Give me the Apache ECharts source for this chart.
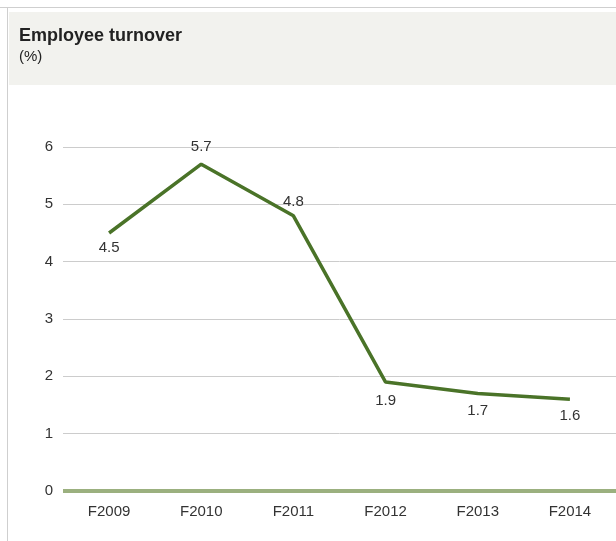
<!DOCTYPE html>
<html>
<head>
<meta charset="utf-8">
<script src="https://cdn.jsdelivr.net/npm/echarts@6/dist/echarts.min.js"></script>
<style>
  html, body { margin: 0; padding: 0; background: #ffffff; }
  #chart { width: 616px; height: 541px; }
</style>
</head>
<body>
<div id="chart"></div>
<script>
// Fiscal years and turnover rate (%)
const categories = ['F2009', 'F2010', 'F2011', 'F2012', 'F2013', 'F2014'];
const turnover = [4.5, 5.7, 4.8, 1.9, 1.7, 1.6];
const yTicks = [0, 1, 2, 3, 4, 5, 6];

// Value label placement for each point
const labelSides = ['bottom', 'top', 'top', 'bottom', 'bottom', 'bottom'];
const labelGaps = [7, 9, 6, 11, 9, 9];

const chart = echarts.init(document.getElementById('chart'), null, { renderer: 'canvas' });

const font = 'Liberation Sans, Arial, sans-serif';

chart.setOption({
  animation: false,
  backgroundColor: '#ffffff',
  graphic: [
    // outer frame
    { type: 'line', shape: { x1: 0, y1: 7.5, x2: 616, y2: 7.5 }, style: { stroke: '#cfcfcf', lineWidth: 1 }, z: -10 },
    { type: 'line', shape: { x1: 7.5, y1: 7, x2: 7.5, y2: 541 }, style: { stroke: '#cfcfcf', lineWidth: 1 }, z: -10 },
    // header band
    { type: 'rect', shape: { x: 9, y: 12, width: 607, height: 73 }, style: { fill: '#f2f2ee' }, z: -9 },
    { type: 'text', left: 19, top: 27, style: { text: 'Employee turnover', font: 'bold 18px ' + font, fill: '#222222' } },
    { type: 'text', left: 19, top: 49, style: { text: '(%)', font: '15px ' + font, fill: '#222222' } }
  ],
  grid: { left: 63, right: -5, top: 147, bottom: 50, containLabel: false },
  xAxis: {
    type: 'category',
    data: categories,
    boundaryGap: true,
    axisLine: { show: false },
    axisTick: { show: false },
    axisLabel: { color: '#333333', fontSize: 15, fontFamily: font, margin: 13 }
  },
  yAxis: {
    type: 'value',
    min: 0,
    max: yTicks[yTicks.length - 1],
    interval: 1,
    axisLine: { show: false },
    axisTick: { show: false },
    axisLabel: { color: '#333333', fontSize: 15, fontFamily: font, margin: 10 },
    splitLine: { lineStyle: { color: '#cccccc', width: 1 } }
  },
  series: [
    {
      type: 'line',
      data: turnover.map((v, i) => ({
        value: v,
        label: { position: labelSides[i], distance: labelGaps[i] }
      })),
      showSymbol: true,
      symbol: 'circle',
      symbolSize: 1,
      itemStyle: { color: 'rgba(0,0,0,0)' },
      lineStyle: { color: '#4a7328', width: 3.5 },
      label: {
        show: true,
        color: '#333333',
        fontSize: 15,
        fontFamily: font,
        formatter: p => p.value.toFixed(1)
      },
      z: 3
    },
    {
      // zero baseline
      type: 'line',
      data: categories.map(() => 0),
      symbol: 'none',
      silent: true,
      lineStyle: { width: 0 },
      markLine: {
        symbol: 'none',
        silent: true,
        label: { show: false },
        lineStyle: { color: '#9bb07f', width: 4, type: 'solid' },
        data: [{ yAxis: 0 }]
      },
      z: 2
    }
  ]
});
</script>
</body>
</html>
